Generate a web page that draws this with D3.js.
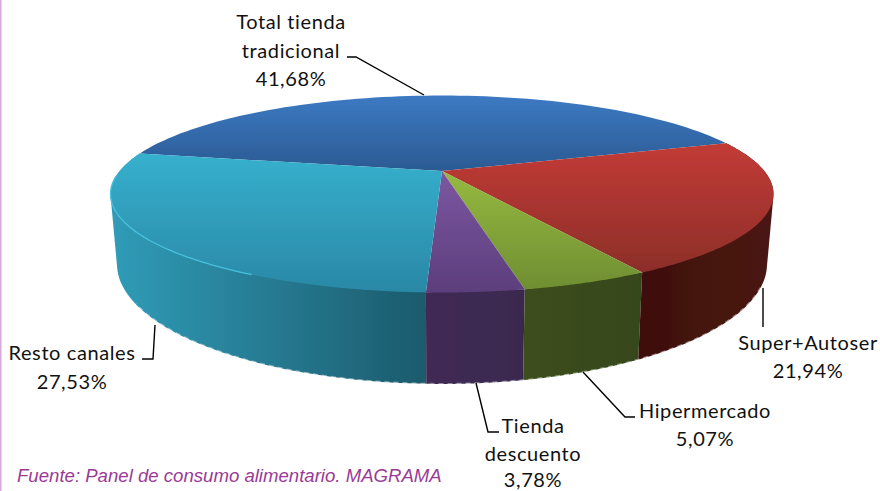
<!DOCTYPE html>
<html><head><meta charset="utf-8">
<script src="https://cdn.jsdelivr.net/npm/d3@7/dist/d3.min.js"></script>
<style>html,body{margin:0;padding:0;background:#fff}svg{display:block}</style>
</head><body><svg id="c" width="880" height="491"></svg>
<script>
const categories = ["Total tienda tradicional","Super+Autoser","Hipermercado","Tienda descuento","Resto canales"];
const values = [41.68,21.94,5.07,3.78,27.53];
const valueLabels = ["41,68%","21,94%","5,07%","3,78%","27,53%"];
const source = "Fuente: Panel de consumo alimentario. MAGRAMA";

// styling
const topColors  = [["#3c7ac3","#2b5a92"],["#c33b36","#8c2e29"],["#95ba40","#6f8e32"],["#7c57a2","#5c3e7c"],["#36b0ce","#2a88a6"]];
const wallColors = [["#1f3f66","#1f3f66"],["#3f100e","#4a1512"],["#3c4e1b","#36461a"],["#402c54","#3b2850"],["#309cb8","#1c5a6c"]];
const font = "Lato,sans-serif";
const textFill = "#111";

// callout layout
const callouts = [
  {lines:[["Total tienda",291,29],["tradicional",291,58],["41,68%",291,86]], leader:[[347,57],[356,57],[424,95]]},
  {lines:[["Super+Autoser",808,350],["21,94%",808,378]], leader:[[763,288],[763,327]]},
  {lines:[["Hipermercado",705,418],["5,07%",705,446]], leader:[[583,372],[625,417],[635,417]]},
  {lines:[["Tienda",533,433],["descuento",533,461],["3,78%",533,486.5]], leader:[[476,383],[488,432],[499,432]]},
  {lines:[["Resto canales",72,360],["27,53%",72,389]], leader:[[155,325],[153,359],[142,359]]}
];

const svg = d3.select("#c");
const W = 880, H = 491;
svg.append("rect").attr("x",0).attr("y",0).attr("width",1.5).attr("height",H).attr("fill","#d9a9d9");

const defs = svg.append("defs");
defs.append("filter").attr("id","soft").attr("x","-2%").attr("y","-2%").attr("width","104%").attr("height","104%")
  .append("feGaussianBlur").attr("stdDeviation",0.45);

// perspective projection of the pie's unit circle, top and bottom discs
const persp = -0.2336;
const disc = (cx, ay, A, B) => {
  const sx = d3.scaleLinear().domain([-1,1]).range([cx-A, cx+A]);
  const sy = d3.scaleLinear().domain([-1,1]).range([ay-B, ay+B]);
  return a => {
    const u = Math.sin(a), v = -Math.cos(a), w = 1 + persp*v;
    return [sx(u/w), sy(v/w)];
  };
};
const topDisc  = disc(442,171,322.3,93.1);
const baseDisc = disc(442,236,316,113.4);
const apex = [442,171];

const pie = d3.pie().sort(null).startAngle(-78.7*Math.PI/180).endAngle(281.3*Math.PI/180);
const arcs = pie(values);
const samples = (a0,a1,n=80) => d3.range(n+1).map(i => a0 + (a1-a0)*i/n);
const line = d3.line();

function grad(id, stops, horizontal){
  const g = defs.append("linearGradient").attr("id",id)
    .attr("x1",0).attr("y1",0).attr("x2",horizontal?1:0).attr("y2",horizontal?0:1);
  g.append("stop").attr("offset",0).attr("stop-color",stops[0]);
  g.append("stop").attr("offset",1).attr("stop-color",stops[1]);
}
arcs.forEach((d,i)=>{ grad("top"+i,topColors[i],false); grad("wall"+i,wallColors[i],true); });

const pieG = svg.append("g").attr("filter","url(#soft)");

// walls: only the front-facing slices are visible
const wallOrder = [4,3,2,1];
pieG.selectAll("path.wall").data(wallOrder).join("path").attr("class","wall")
  .attr("d", i => {
    const s = samples(arcs[i].startAngle, arcs[i].endAngle);
    const hull = d3.polygonHull(s.map(topDisc).concat(s.map(baseDisc)));
    return line(hull)+"Z";
  })
  .attr("fill", i => `url(#wall${i})`);

// dashed pale fringe on the lower rim
pieG.append("path")
  .attr("d", line(samples(arcs[1].startAngle+0.75, arcs[4].endAngle-0.75).map(baseDisc)))
  .attr("fill","none").attr("stroke","#fff").attr("stroke-opacity",0.45)
  .attr("stroke-width",2).attr("stroke-dasharray","5 4");

// top faces
pieG.selectAll("path.top").data(arcs).join("path").attr("class","top")
  .attr("d", d => line([apex].concat(samples(d.startAngle,d.endAngle).map(topDisc)))+"Z")
  .attr("fill",(d,i)=>`url(#top${i})`);

// light lip along the front-left rim
pieG.append("path")
  .attr("d", line(samples(arcs[4].startAngle+0.45, arcs[4].endAngle-0.25).map(topDisc)))
  .attr("fill","none").attr("stroke","#46c2df").attr("stroke-width",1.3);

// leaders and labels
svg.selectAll("path.leader").data(callouts).join("path").attr("class","leader")
  .attr("d", d => line(d.leader)).attr("fill","none").attr("stroke","#000").attr("stroke-width",1.4);

svg.selectAll("text.lab").data(callouts.flatMap(c=>c.lines)).join("text").attr("class","lab")
  .attr("x",d=>d[1]).attr("y",d=>d[2]).text(d=>d[0])
  .attr("text-anchor","middle").attr("fill",textFill)
  .style("font-family",font).style("font-size","20px").style("letter-spacing","0.6px");

svg.append("text").attr("x",17).attr("y",482).text(source)
  .attr("fill","#9b3a96").style("font-family","'Liberation Sans',Arial,sans-serif")
  .style("font-style","italic").style("font-size","18.6px");
</script></body></html>
